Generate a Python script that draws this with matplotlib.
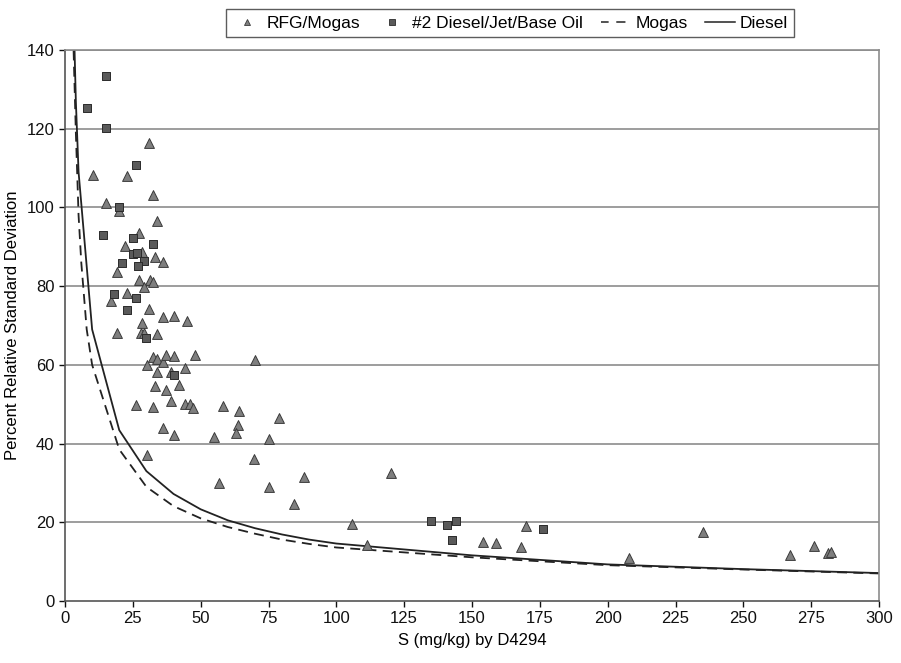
import matplotlib
matplotlib.use("Agg")
import matplotlib.pyplot as plt
from matplotlib.lines import Line2D

plt.rcParams['font.family'] = ['Liberation Sans', 'DejaVu Sans']

# RFG/Mogas data (triangles)
rfg_x = [10.2, 15.1, 20.0, 22.7, 31.1, 32.3, 34.0, 27.4, 22.2, 28.3, 33.2, 36.0, 19.2, 27.2,
         31.3, 32.3, 29.2, 23.0, 17.0, 31.1, 36.0, 40.2, 45.0, 19.3, 28.3, 28.0, 29.2, 34.0,
         32.3, 34.0, 36.2, 37.2, 40.2, 48.0, 30.1, 34.0, 39.1, 44.3, 42.0, 33.2, 37.2, 39.1,
         26.3, 32.3, 44.2, 46.1, 47.1, 36.0, 40.2, 55.0, 30.1, 70.1, 58.1, 64.1, 79.0, 63.9,
         63.0, 75.2, 69.5, 56.8, 75.2, 88.1, 84.3, 105.9, 120.1, 111.2, 154.1, 159.0, 167.9,
         170.0, 208.0, 235.1, 267.1, 276.1, 281.1, 282.4]
rfg_y = [108.2, 101.0, 99.2, 108.0, 116.3, 103.2, 96.5, 93.4, 90.2, 88.7, 87.5, 86.2, 83.7, 81.6,
         81.6, 81.1, 79.7, 78.3, 76.2, 74.1, 72.2, 72.4, 71.2, 68.2, 70.7, 68.2, 68.2, 67.8,
         62.1, 61.4, 60.8, 62.5, 62.2, 62.5, 60.0, 58.3, 58.3, 59.1, 54.9, 54.6, 53.6, 50.8,
         49.8, 49.4, 50.1, 50.1, 49.1, 44.0, 42.3, 41.7, 37.1, 61.2, 49.6, 48.3, 46.4, 44.7,
         42.8, 41.2, 36.1, 29.9, 29.0, 31.6, 24.6, 19.5, 32.4, 14.3, 15.1, 14.7, 13.7,
         19.0, 10.8, 17.6, 11.8, 14.1, 12.3, 12.5]

# #2 Diesel/Jet/Base Oil data (squares)
dsl_x = [15.1, 8.0, 15.1, 26.3, 20.0, 13.9, 25.2, 32.3, 25.2, 26.4, 29.2, 21.0, 27.0, 18.1,
         26.2, 23.0, 29.9, 40.2, 135.0, 140.9, 144.0, 142.8, 176.1]
dsl_y = [133.4, 125.2, 120.1, 110.9, 100.0, 93.0, 92.2, 90.6, 88.2, 88.5, 86.4, 85.8, 85.2, 77.9,
         76.9, 73.9, 66.7, 57.4, 20.2, 19.2, 20.4, 15.6, 18.3]

# Precision curves
mog_cx = [3, 4, 5, 6, 8, 10, 20, 30, 40, 50, 60, 70, 80, 90, 100, 150, 200, 250, 300]
mog_cy = [144, 119, 98, 86, 69, 60, 38.5, 29.0, 24.1, 21.0, 18.8, 17.1, 15.6, 14.5, 13.6,
          11.1, 9.1, 8.0, 7.0]
dsl_cx = [3, 4, 5, 10, 20, 30, 40, 50, 60, 70, 80, 90, 100, 150, 200, 250, 300]
dsl_cy = [154, 127, 109, 69, 43.4, 33.0, 27.2, 23.3, 20.5, 18.5, 16.9, 15.6, 14.6,
          11.6, 9.3, 8.1, 7.1]

x_ticks = list(range(0, 301, 25))
y_ticks = list(range(0, 141, 20))

fig = plt.figure(figsize=(9.01, 6.63), dpi=100)
ax = fig.add_axes([65 / 901, 1 - 601 / 663, (879 - 65) / 901, (601 - 50) / 663])

for yv in y_ticks[1:]:
    ax.axhline(yv, color='#8c8c8c', lw=1.2, zorder=1)

ax.plot(mog_cx, mog_cy, color='#222222', lw=1.3, ls=(0, (5.5, 3.5)), zorder=2)
ax.plot(dsl_cx, dsl_cy, color='#222222', lw=1.3, ls='-', zorder=2)

ax.scatter(rfg_x, rfg_y, marker='^', s=50, facecolor='#7f7f7f', edgecolor='#3a3a3a',
           linewidths=0.7, zorder=3)
ax.scatter(dsl_x, dsl_y, marker='s', s=36, facecolor='#5a5a5a', edgecolor='#2a2a2a',
           linewidths=0.7, zorder=3)

ax.set_xlim(0, 300)
ax.set_ylim(0, 140)
ax.set_xticks(x_ticks)
ax.set_yticks(y_ticks)
ax.tick_params(axis='both', labelsize=12, colors='#111111', length=4, width=1,
               direction='out')
ax.tick_params(axis='x', pad=3)
for side in ['top', 'right']:
    ax.spines[side].set_color('#8c8c8c')
    ax.spines[side].set_linewidth(1.2)
for side in ['left', 'bottom']:
    ax.spines[side].set_color('#555555')
    ax.spines[side].set_linewidth(1.2)

ax.set_xlabel('S (mg/kg) by D4294', fontsize=12, labelpad=5)
ax.set_ylabel('Percent Relative Standard Deviation', fontsize=12, labelpad=5)

handles = [
    Line2D([], [], ls='none', marker='^', markersize=5, markerfacecolor='#7f7f7f',
           markeredgecolor='#3a3a3a', markeredgewidth=0.6),
    Line2D([], [], ls='none', marker='s', markersize=4.5, markerfacecolor='#5a5a5a',
           markeredgecolor='#2a2a2a', markeredgewidth=0.6),
    Line2D([], [], color='#222222', lw=1.1, ls=(1, (6, 5))),
    Line2D([], [], color='#222222', lw=1.1, ls='-'),
]
labels = ['RFG/Mogas', '#2 Diesel/Jet/Base Oil', 'Mogas', 'Diesel']
leg = fig.legend(handles, labels, loc='center', bbox_to_anchor=(510 / 901, 1 - 23 / 663),
                 ncol=4, fontsize=12.5, frameon=True, fancybox=False, handlelength=1.7,
                 handletextpad=0.3, columnspacing=1.0, borderpad=0.35, borderaxespad=0)
leg.get_frame().set_edgecolor('#333333')
leg.get_frame().set_linewidth(1.0)

fig.savefig('out.png', dpi=100)
